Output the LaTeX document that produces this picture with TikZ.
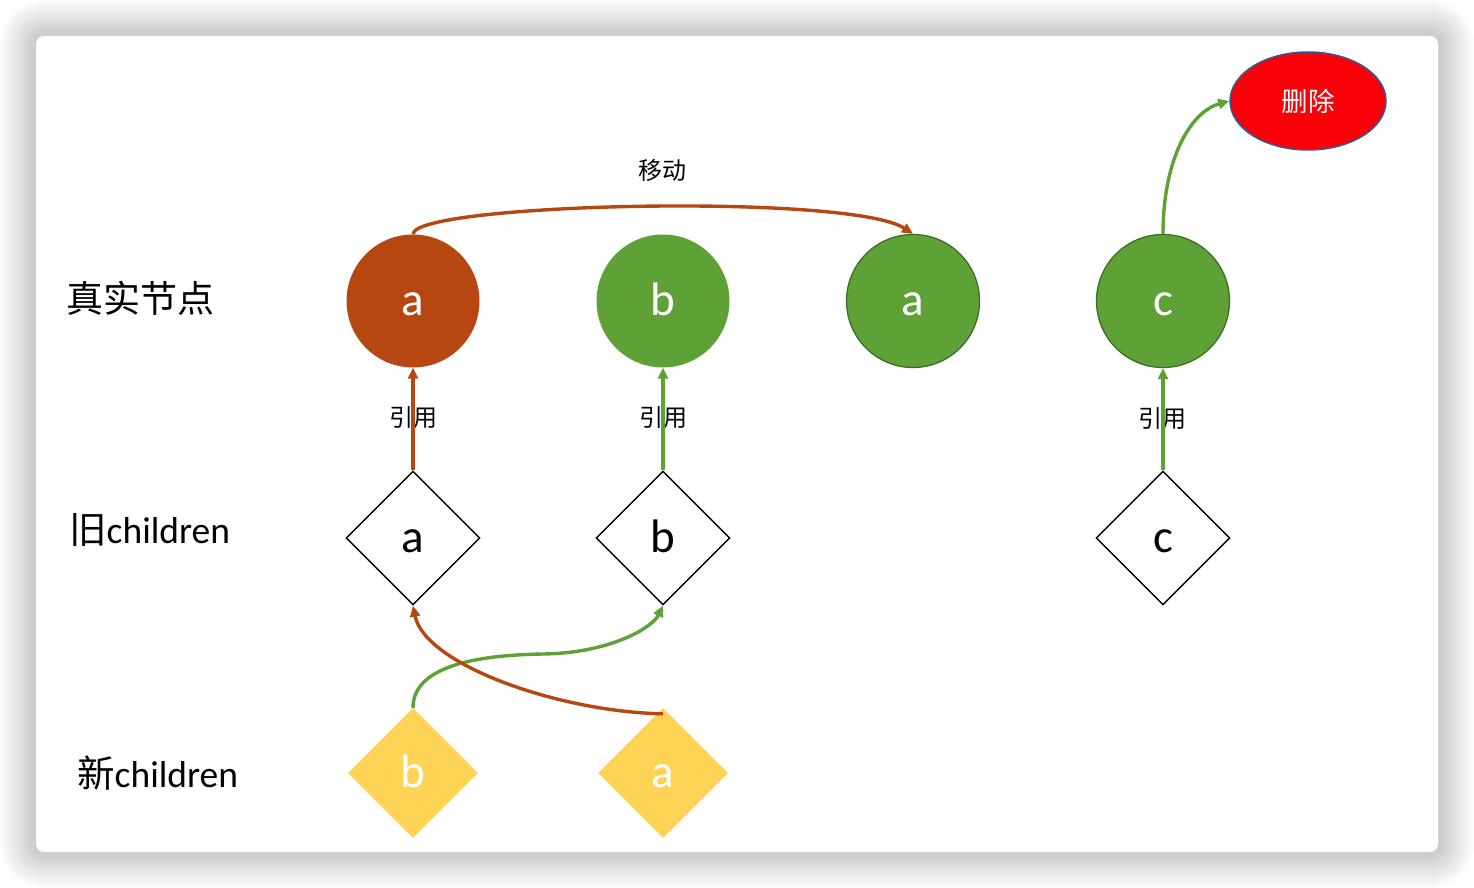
\documentclass[tikz,border=0pt]{standalone}
\usepackage{fontspec}
\setmainfont{Carlito}
\newfontfamily\cjk{Noto Sans CJK SC}
\usetikzlibrary{shapes.geometric,arrows.meta}
\definecolor{brownc}{RGB}{183,71,16}
\definecolor{greenc}{RGB}{94,161,54}
\definecolor{dkgreen}{RGB}{62,110,36}
\definecolor{yellowc}{RGB}{254,211,86}
\definecolor{redc}{RGB}{250,0,8}
\definecolor{blueline}{RGB}{50,90,150}
\tikzset{
  letter/.style={text height=28pt,text depth=0pt,font=\fontsize{47}{50}\selectfont},
  realnode/.style={letter,circle,minimum size=133pt,inner sep=0pt,text=white},
  oldnode/.style={letter,diamond,draw=black,line width=1.4pt,minimum width=134pt,minimum height=134pt,inner sep=0pt,fill=white},
  newnode/.style={letter,diamond,fill=yellowc,minimum width=130pt,minimum height=130pt,inner sep=0pt,text=white},
  rowlabel/.style={anchor=west,inner sep=0pt,font=\fontsize{37.5}{40}\selectfont},
  smalllabel/.style={inner sep=0pt,font=\cjk\fontsize{24}{28}\selectfont},
  conn/.style={line width=3.4pt,-{Triangle[length=11pt,width=10pt]}},
}
\begin{document}
\begin{tikzpicture}[x=1pt,y=-1pt]
\useasboundingbox (0,0) rectangle (1474,888);
% shadow
\foreach \i in {1,...,18}{
  \pgfmathsetmacro\rr{8+2*\i}
  \fill[black,opacity=0.011,rounded corners=\rr pt] ({36-2*\i},{36-2*\i}) rectangle ({1438+2*\i},{852+2*\i});
}
\fill[white,rounded corners=8pt] (36,36) rectangle (1438,852);

% row labels
\node[rowlabel] (l1) at (66,298) {\cjk\fontsize{37}{40}\selectfont 真实节点};
\node[rowlabel] (l2) at (69,530) {{\cjk 旧}children};
\node[rowlabel] (l3) at (77,773) {{\cjk 新}children};

% real nodes
\node[realnode,fill=brownc] (ra) at (413,301) {a};
\node[realnode,fill=greenc] (rb) at (663,301) {b};
\node[realnode,fill=greenc,draw=dkgreen,line width=1.3pt] (ra2) at (913,301) {a};
\node[realnode,fill=greenc,draw=dkgreen,line width=1.3pt] (rc) at (1163,301) {c};

% delete
\node[ellipse,fill=redc,draw=blueline,line width=1.5pt,minimum width=156pt,minimum height=98pt,inner sep=0pt,text=white,font=\cjk\fontsize{26.5}{30}\selectfont] (del) at (1308,101) {删除};

% old children
\node[oldnode] (oa) at (413,538) {a};
\node[oldnode] (ob) at (663,538) {b};
\node[oldnode] (oc) at (1163,538) {c};

% new children
\node[newnode] (nb) at (413,773) {b};
\node[newnode] (na) at (663,773) {a};

% labels under connectors
\node[smalllabel] (q1) at (413,418) {引用};
\node[smalllabel] (q2) at (663,418) {引用};
\node[smalllabel] (q3) at (1162,419) {引用};
\node[smalllabel] (mv) at (662,170) {移动};

% reference arrows
\draw[conn,brownc] (oa.north) -- (ra.south);
\draw[conn,greenc] (ob.north) -- (rb.south);
\draw[conn,greenc] (oc.north) -- (rc.south);

% move
\draw[conn,brownc] (ra.north) .. controls (413,203) and (850,193) .. (ra2.north);

% delete
\draw[conn,greenc] (rc.north) .. controls (1163,160) and (1190,112) .. (del.west);

% new -> old
\draw[conn,greenc] (nb.north) .. controls (413,665) and (480,655) .. (543,654) .. controls (610,653) and (652,628) .. (ob.south);
\draw[conn,brownc] ([yshift=-6pt]na.north) .. controls (560,712) and (425,665) .. (oa.south);
\end{tikzpicture}
\end{document}
